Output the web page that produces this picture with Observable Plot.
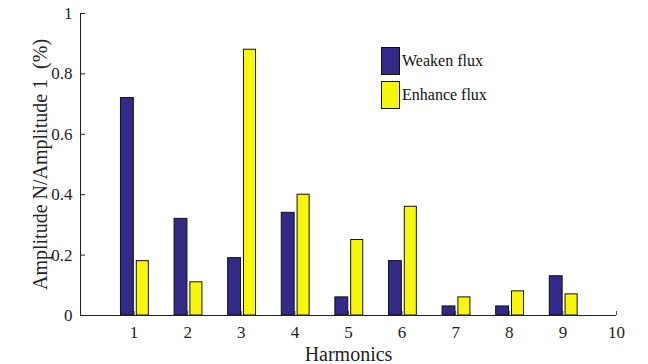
<!DOCTYPE html>
<html><head><meta charset="utf-8">
<script src="https://cdn.jsdelivr.net/npm/d3@7"></script>
<script src="https://cdn.jsdelivr.net/npm/@observablehq/plot@0.6"></script>
<style>
body{margin:0;background:#fff;}
#chart{position:relative;width:648px;height:364px;}
#chart svg, #chart svg text{font-family:"Liberation Serif","Times New Roman",serif !important;font-variant:normal !important;}
.legend{position:absolute;left:381px;top:47px;font-family:"Liberation Serif","Times New Roman",serif;font-size:16px;color:#111;}
.item{display:flex;align-items:center;height:28px;margin-bottom:6px;}
.sw{width:19px;height:28px;border:1px solid #111;box-sizing:border-box;margin-right:2px;}
</style></head><body><div id="chart"></div>
<script>
const harmonics = [1, 2, 3, 4, 5, 6, 7, 8, 9];
const weaken  = [0.72, 0.32, 0.19, 0.34, 0.06, 0.18, 0.03, 0.03, 0.13];
const enhance = [0.18, 0.11, 0.88, 0.40, 0.25, 0.36, 0.06, 0.08, 0.07];
const seriesNames = ["Weaken flux", "Enhance flux"];
const seriesColors = ["#332a88", "#f7f70c"];
const xTicks = [1, 2, 3, 4, 5, 6, 7, 8, 9, 10];
const yTicks = [0, 0.2, 0.4, 0.6, 0.8, 1];
const xLabel = "Harmonics";
const yLabel = "Amplitude N/Amplitude 1  (%)";

const offsets = {"Weaken flux": [-0.245, -0.005], "Enhance flux": [0.05, 0.275]};
const data = harmonics.flatMap((h, i) => [
  {h, v: weaken[i], s: seriesNames[0]},
  {h, v: enhance[i], s: seriesNames[1]}
]);

const ff = '"Liberation Serif","Times New Roman",serif';
const chart = Plot.plot({
  width: 648, height: 364,
  marginLeft: 80, marginRight: 32, marginTop: 13, marginBottom: 49,
  style: {fontSize: "17px", fontFamily: ff, color: "#222", background: "#fff"},
  x: {domain: [0, 10]},
  y: {domain: [0, 1]},
  color: {domain: seriesNames, range: seriesColors},
  marks: [
    Plot.axisX(xTicks, {tickSize: -4, tickFormat: () => "", stroke: "#555", label: null}),
    Plot.axisX(xTicks, {tickSize: 0, tickPadding: 10, fontSize: 17, fontFamily: ff, fontVariant: "normal", label: null}),
    Plot.axisY(yTicks, {tickSize: -5, tickFormat: () => "", stroke: "#222", label: null}),
    Plot.axisY(yTicks, {tickSize: 0, tickPadding: 8, fontSize: 17, fontFamily: ff, fontVariant: "normal", label: null, tickFormat: d => String(d)}),
    Plot.rectY(data, {
      x1: d => d.h + offsets[d.s][0],
      x2: d => d.h + offsets[d.s][1],
      y: "v", fill: "s", stroke: "#111", strokeWidth: 1
    }),
    Plot.ruleY([0], {stroke: "#222"}),
    Plot.ruleX([0], {stroke: "#222"}),
    Plot.text([xLabel], {frameAnchor: "bottom", dy: 39, fontSize: 20, fontFamily: ff, textAnchor: "middle", lineAnchor: "middle", fill: "#222"}),
    Plot.text([yLabel], {frameAnchor: "left", dx: -40, rotate: -90, fontSize: 20, fontFamily: ff, textAnchor: "middle", lineAnchor: "middle", fill: "#222"})
  ]
});
const wrap = document.getElementById("chart");
wrap.appendChild(chart);
const legend = document.createElement("div");
legend.className = "legend";
seriesNames.forEach((n, i) => {
  const it = document.createElement("div"); it.className = "item";
  const sw = document.createElement("div"); sw.className = "sw"; sw.style.background = seriesColors[i];
  const t = document.createElement("span"); t.textContent = n;
  it.appendChild(sw); it.appendChild(t); legend.appendChild(it);
});
wrap.appendChild(legend);
</script></body></html>
